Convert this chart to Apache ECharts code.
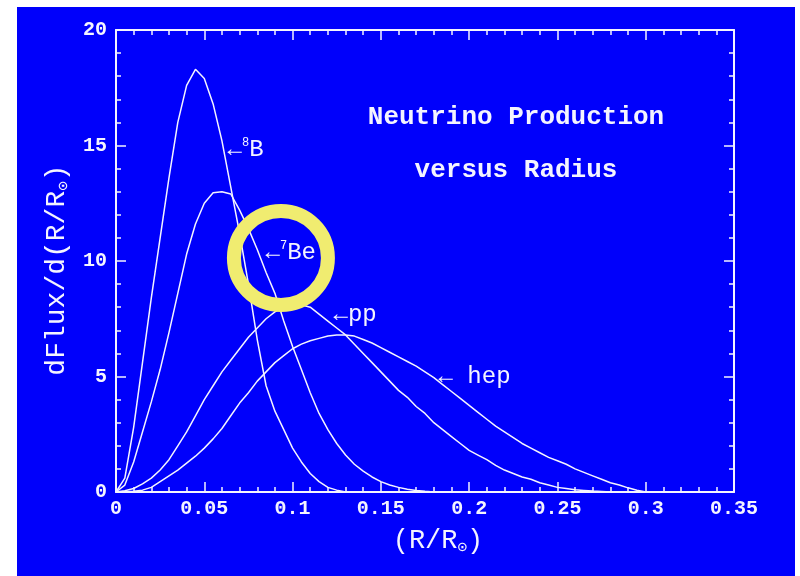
<!DOCTYPE html>
<html><head><meta charset="utf-8">
<script src="https://cdn.jsdelivr.net/npm/echarts@6/dist/echarts.min.js"></script>
<style>html,body{margin:0;padding:0;background:#fff;}#c{width:800px;height:576px;}</style>
</head><body><div id="c"></div>
<script>
// Radius grid (R/Rsun), step 0.005
const radius = [0,0.005,0.01,0.015,0.02,0.025,0.03,0.035,0.04,0.045,0.05,0.055,0.06,0.065,0.07,0.075,0.08,0.085,0.09,0.095,0.1,0.105,0.11,0.115,0.12,0.125,0.13,0.135,0.14,0.145,0.15,0.155,0.16,0.165,0.17,0.175,0.18,0.185,0.19,0.195,0.2,0.205,0.21,0.215,0.22,0.225,0.23,0.235,0.24,0.245,0.25,0.255,0.26,0.265,0.27,0.275,0.28,0.285,0.29,0.295,0.3];
// dFlux/d(R/Rsun) values for each source
const fluxB8 = [0,0.6,2.8,5.6,8.4,11.0,13.6,16.0,17.6,18.3,17.9,16.8,15.2,13.2,11.2,9.0,6.6,4.6,3.5,2.7,1.9,1.3,0.8,0.45,0.2,0.08,0];
const fluxBe7 = [0,0.3,1.3,2.6,3.9,5.3,6.9,8.6,10.3,11.6,12.5,12.95,13.0,12.9,12.2,11.4,10.5,9.5,8.6,7.4,6.3,5.3,4.3,3.4,2.7,2.1,1.6,1.2,0.9,0.65,0.45,0.3,0.2,0.12,0.07,0.03,0];
const fluxPP = [0,0.05,0.15,0.35,0.6,0.95,1.4,2.0,2.6,3.3,4.0,4.6,5.2,5.7,6.2,6.7,7.1,7.5,7.8,8.0,8.1,8.1,8.0,7.7,7.4,7.1,6.8,6.4,6.0,5.6,5.2,4.8,4.4,4.1,3.7,3.4,3.0,2.7,2.4,2.1,1.8,1.6,1.4,1.15,0.95,0.8,0.65,0.55,0.4,0.3,0.2,0.15,0.1,0.07,0.04,0.02,0];
const fluxHep = [0,0,0.03,0.08,0.2,0.45,0.7,0.95,1.25,1.55,1.9,2.3,2.75,3.3,3.85,4.3,4.8,5.2,5.6,5.9,6.2,6.4,6.55,6.65,6.75,6.8,6.8,6.75,6.6,6.45,6.25,6.05,5.85,5.65,5.45,5.2,4.95,4.65,4.35,4.05,3.75,3.45,3.15,2.85,2.6,2.35,2.1,1.9,1.7,1.5,1.35,1.2,1.0,0.85,0.7,0.55,0.4,0.3,0.18,0.08,0];
// Curve labels: text and the data point their arrows point at
const seriesNames = ['8B','7Be','pp','hep'];
const labelTexts = ['←{s|8}B','←{s|7}Be','←pp','← hep'];
const labelAt = [[0.0629,14.8],[0.0844,10.35],[0.1229,7.66],[0.1824,4.98]];
const circleAt = [0.0934,10.13];
const titleLines = ['Neutrino Production','versus Radius'];
const xName = '(R/R{sub|⊙})';
const yName = 'dFlux/d(R/R{sub|⊙})';

const FONT = '"Liberation Mono", "DejaVu Sans Mono", monospace';
const FG = '#f4f4ff';
const chart = echarts.init(document.getElementById('c'));
const pairs = arr => arr.map((v,i)=>[radius[i], v]);
const allData = [fluxB8, fluxBe7, fluxPP, fluxHep];

const subRich = {sub:{fontFamily:FONT,fontSize:16,color:FG,verticalAlign:'bottom',padding:[14,0,0,0]}};
function axisCommon(showLabel){
  return {
    axisLine:{show:true,onZero:false,lineStyle:{color:FG,width:2}},
    axisTick:{show:true,inside:true,length:10,lineStyle:{color:FG,width:1.5}},
    minorTick:{show:true,splitNumber:5,length:5,lineStyle:{color:FG,width:1.5}},
    splitLine:{show:false},
    axisLabel:{show:showLabel,color:FG,fontFamily:FONT,fontSize:20,fontWeight:'bold'}
  };
}
const xBase = {type:'value',min:0,max:0.35,interval:0.05};
const yBase = {type:'value',min:0,max:20,interval:5};

function graphics(extra){
  return [
    {type:'rect',z:-10,shape:{x:17,y:7,width:778,height:569},style:{fill:'#0000fb'}},
    {type:'text',z:10,x:516,y:117,style:{text:titleLines[0],fill:FG,font:'bold 26px '+FONT,textAlign:'center',textVerticalAlign:'middle'}},
    {type:'text',z:10,x:516,y:170,style:{text:titleLines[1],fill:FG,font:'bold 26px '+FONT,textAlign:'center',textVerticalAlign:'middle'}}
  ].concat(extra||[]);
}

chart.setOption({
  backgroundColor:'#ffffff',
  animation:false,
  graphic:graphics(),
  grid:{left:116,right:66,top:30,bottom:84},
  xAxis:[
    Object.assign({},xBase,axisCommon(true),{
      position:'bottom',name:xName,nameLocation:'middle',nameGap:34,
      nameTextStyle:{color:FG,fontFamily:FONT,fontSize:27,padding:[0,0,0,26],rich:subRich},
      axisLabel:{show:true,color:FG,fontFamily:FONT,fontSize:20,fontWeight:'bold',margin:7}
    }),
    Object.assign({},xBase,axisCommon(false),{position:'top'})
  ],
  yAxis:[
    Object.assign({},yBase,axisCommon(true),{
      position:'left',name:yName,nameLocation:'middle',nameGap:44,
      nameTextStyle:{color:FG,fontFamily:FONT,fontSize:28,padding:[0,0,0,-18],rich:subRich},
      axisLabel:{show:true,color:FG,fontFamily:FONT,fontSize:20,fontWeight:'bold',margin:9}
    }),
    Object.assign({},yBase,axisCommon(false),{position:'right'})
  ],
  series: allData.map((arr,k)=>({
    name:seriesNames[k],type:'line',showSymbol:false,smooth:false,
    lineStyle:{color:FG,width:1.5},
    data:pairs(arr),
    markPoint:{
      symbol:'circle',symbolSize:1,itemStyle:{color:'rgba(0,0,0,0)'},
      data:[{coord:labelAt[k]}],
      label:{show:true,position:'right',distance:0,formatter:labelTexts[k],color:FG,fontFamily:FONT,fontSize:24,
        rich:{s:{fontFamily:FONT,fontSize:12,color:FG,verticalAlign:'top',padding:[0,0,14,0]}}}
    }
  }))
});

const c = chart.convertToPixel({xAxisIndex:0,yAxisIndex:0}, circleAt);
chart.setOption({graphic:graphics([
  {type:'circle',z:20,shape:{cx:c[0],cy:c[1],r:47},style:{fill:'none',stroke:'#f0ec70',lineWidth:14}}
])});
</script></body></html>
